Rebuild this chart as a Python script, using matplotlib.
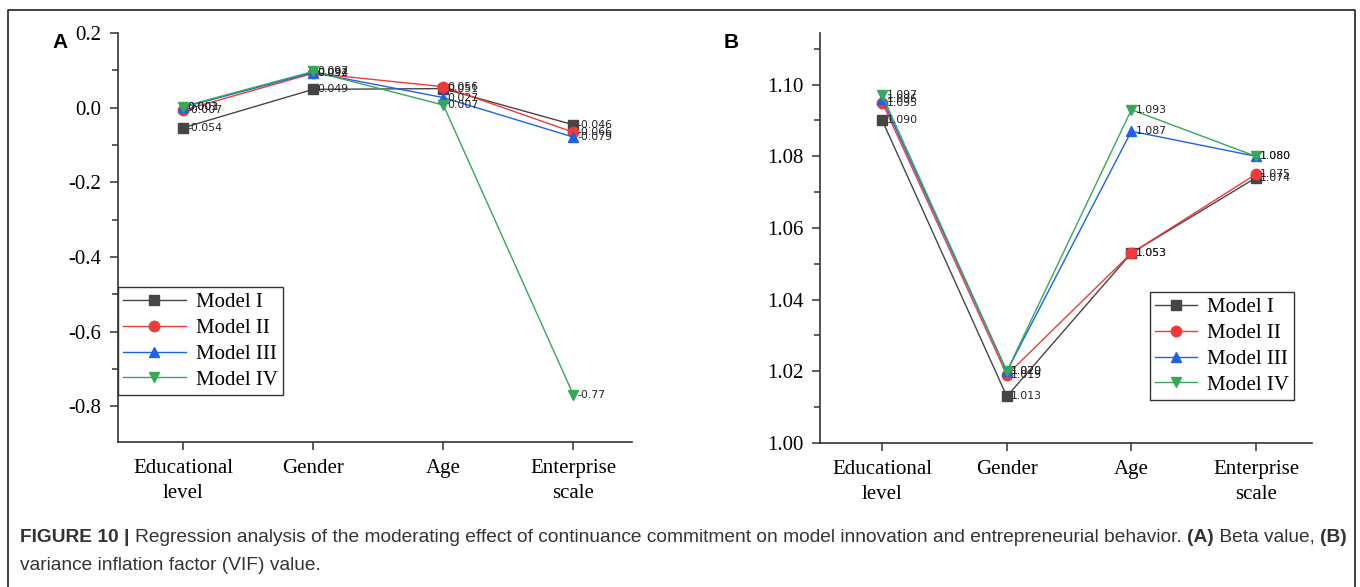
import numpy as np
import matplotlib.pyplot as plt
from matplotlib.lines import Line2D
from matplotlib.ticker import MultipleLocator

categories = ['Educational\nlevel', 'Gender', 'Age', 'Enterprise\nscale']
models = ['Model I', 'Model II', 'Model III', 'Model IV']

# A: Beta value
beta_1 = [-0.054, 0.049, 0.051, -0.046]
beta_2 = [-0.007, 0.092, 0.056, -0.066]
beta_3 = [0.001, 0.094, 0.027, -0.079]
beta_4 = [0.003, 0.097, 0.007, -0.77]

# B: VIF value
vif_1 = [1.090, 1.013, 1.053, 1.074]
vif_2 = [1.095, 1.019, 1.053, 1.075]
vif_3 = [1.096, 1.020, 1.087, 1.080]
vif_4 = [1.097, 1.020, 1.093, 1.080]

colors = ['#454545', '#f03a3a', '#1f62e6', '#35a85c']
markers = ['s', 'o', '^', 'v']

W, H = 1360, 587
fig = plt.figure(figsize=(W / 100, H / 100), dpi=100)


def px(x0, y0, x1, y1):
    # pixel box -> figure fraction rect
    return [x0 / W, 1 - y1 / H, (x1 - x0) / W, (y1 - y0) / H]


def lab(v):
    if v == -0.77:
        return '-0.77'
    return f'{v:.3f}'


def panel(ax, series, ylim, major, minor, legend_pos, hl):
    x = np.arange(len(categories))
    for i, s in enumerate(series):
        ax.plot(x, s, color=colors[i], marker=markers[i], markersize=7.5,
                linewidth=1.0, label=models[i], zorder=3 + i)
        for xi, v in zip(x, s):
            ax.annotate(lab(v), (xi, v), xytext=(3, 0), textcoords='offset points',
                        fontsize=7.8, va='center', ha='left', color='#222222',
                        family='DejaVu Sans', zorder=10)
    ax.set_xlim(-0.5, 3.45)
    ax.set_ylim(*ylim)
    ax.set_xticks(x)
    ax.set_xticklabels(categories, family='Liberation Serif', fontsize=15,
                       linespacing=1.45)
    ax.yaxis.set_major_locator(MultipleLocator(major))
    ax.yaxis.set_minor_locator(MultipleLocator(minor))
    for t in ax.get_yticklabels():
        t.set_family('Liberation Serif')
        t.set_fontsize(15)
    ax.tick_params(axis='both', which='major', direction='out', length=6,
                   width=1.1, color='#333333', pad=6)
    ax.tick_params(axis='y', which='minor', direction='out', length=4,
                   width=1.1, color='#333333')
    ax.spines['top'].set_visible(False)
    ax.spines['right'].set_visible(False)
    for s in ['left', 'bottom']:
        ax.spines[s].set_linewidth(1.2)
        ax.spines[s].set_color('#333333')
    leg = ax.legend(loc='lower left', bbox_to_anchor=legend_pos, borderaxespad=0,
                    prop={'family': 'Liberation Serif', 'size': 15},
                    handlelength=hl, handletextpad=0.5, labelspacing=0.3,
                    fancybox=False, edgecolor='#333333', framealpha=1,
                    borderpad=0.25)
    leg.get_frame().set_linewidth(1.0)


axA = fig.add_axes(px(118, 33, 632, 442))
panel(axA, [beta_1, beta_2, beta_3, beta_4], (-0.896, 0.2), 0.2, 0.1, (0.0, 0.115), 3.0)
axA.yaxis.set_major_formatter(plt.FuncFormatter(lambda v, p: f'{v:.1f}'))

axB = fig.add_axes(px(820, 33, 1312, 443))
panel(axB, [vif_1, vif_2, vif_3, vif_4], (1.0, 1.1144), 0.02, 0.01, (0.67, 0.105), 2.0)
axB.yaxis.set_major_formatter(plt.FuncFormatter(lambda v, p: f'{v:.2f}'))

fig.text(60 / W, 1 - 42 / H, 'A', fontsize=15, fontweight='bold',
         family='Liberation Sans', ha='center', va='center')
fig.text(731 / W, 1 - 42 / H, 'B', fontsize=15, fontweight='bold',
         family='Liberation Sans', ha='center', va='center')

# outer frame
fig.add_artist(Line2D([8 / W, 8 / W, 1355 / W, 1355 / W],
                      [0, 1 - 10 / H, 1 - 10 / H, 0],
                      transform=fig.transFigure, color='#222222', linewidth=1.2))


def runs(x, y, parts):
    r = fig.canvas.get_renderer()
    for txt, bold in parts:
        t = fig.text(x / W, 1 - y / H, txt, fontsize=13.8, family='Liberation Sans',
                     fontweight='bold' if bold else 'normal', color='#333333',
                     va='baseline', ha='left')
        bb = t.get_window_extent(renderer=r)
        x += bb.width


runs(20, 542, [('FIGURE 10 | ', True),
               ('Regression analysis of the moderating effect of continuance commitment on model '
                'innovation and entrepreneurial behavior. ', False),
               ('(A)', True), (' Beta value, ', False), ('(B)', True)])
runs(20, 570, [('variance inflation factor (VIF) value.', False)])

fig.savefig('out.png', dpi=100)
